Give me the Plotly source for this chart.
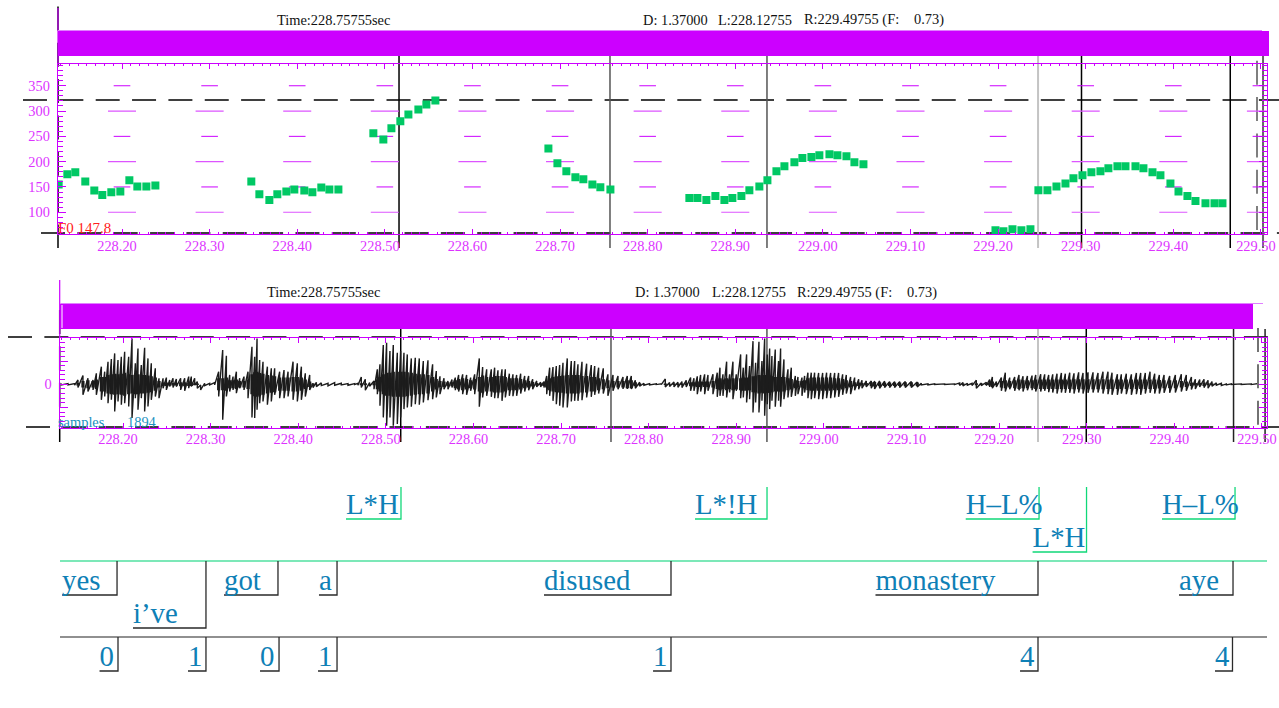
import plotly.graph_objects as go

# ---------- data ----------
f0_t = [228.1277,228.1376,228.1467,228.1581,228.1684,228.1775,228.1878,228.1981,228.2084,228.2175,228.2278,228.2381,
        228.3476,228.3568,228.3682,228.3773,228.3876,228.3967,228.4081,228.4173,228.4275,228.4367,228.4470,
        228.4869,228.4983,228.5075,228.5177,228.5269,228.5383,228.5474,228.5577,
        228.6867,228.6970,228.7072,228.7175,228.7266,228.7369,228.7460,228.7575,
        228.8476,228.8568,228.8670,228.8773,228.8876,228.8967,228.9070,228.9161,228.9275,228.9367,228.9470,228.9561,
        228.9675,228.9766,228.9869,228.9960,229.0075,229.0166,229.0269,229.0360,229.0463,
        229.1970,229.2061,229.2164,229.2266,229.2369,
        229.2460,229.2563,229.2666,229.2769,229.2860,229.2963,229.3065,229.3168,229.3259,229.3362,229.3454,229.3568,
        229.3659,229.3762,229.3853,229.3967,229.4059,229.4161,229.4253,229.4367,229.4470,229.4561]
f0_hz = [155,175,179,161,143,134,139.5,141,163,151,151,153,
         161,135.5,124,135.5,141,145,143,139.5,149,145,145,
         256,244,266,280,293,303,313,321,
         226,197,181,169,165,155,149.3,145,
         128,128,124,132,124,128,132,143.4,151,163,181,191,
         199,207,209,212.5,214.5,212.5,210.5,199,195,
         64.5,62.5,66.5,64.5,66.5,
         143.4,143.4,151,157,167,173,179,181,187,191,191,191,
         187,179,173,157,141,132,122,118,118,118]

wave_t = [228.1296,228.1372,228.1448,228.1486,228.1543,228.1600,228.1658,228.1696,228.1753,228.1791,228.1829,228.1867,
          228.1905,228.1943,228.1981,228.2019,228.2065,228.2103,228.2141,228.2171,228.2209,228.2247,228.2285,228.2323,
          228.2369,228.2411,228.2457,228.2495,228.2533,228.2571,228.2609,228.2658,228.2704,228.2750,228.2780,228.2818,
          228.2848,228.2886,228.2932,228.2989,228.3046,228.3092,228.3138,228.3180,228.3218,228.3256,228.3294,228.3332,
          228.3381,228.3427,228.3472,228.3503,228.3530,228.3560,228.3598,228.3648,228.3693,228.3731,228.3788,228.3838,
          228.3884,228.3941,228.3990,228.4036,228.4081,228.4131,228.4169,228.4207,228.4264,228.4340,228.4416,228.4492,
          228.4568,228.4644,
          228.4682,228.4720,228.4766,228.4815,228.4865,228.4903,228.4933,228.4971,228.5009,228.5047,228.5085,228.5131,
          228.5169,228.5207,228.5245,228.5291,228.5336,228.5382,228.5428,228.5481,228.5534,228.5576,228.5618,228.5664,
          228.5709,228.5755,228.5793,228.5831,228.5877,228.5922,228.5968,228.6014,228.6067,228.6105,228.6151,228.6204,
          228.6242,228.6280,228.6326,228.6364,228.6410,228.6451,228.6493,228.6539,228.6585,228.6630,228.6676,228.6722,
          228.6767,228.6805,228.6836,228.6870,228.6908,228.6946,228.6984,228.7022,228.7071,228.7117,228.7155,228.7193,
          228.7239,228.7292,228.7345,228.7384,228.7429,228.7482,228.7535,228.7593,228.7650,228.7707,228.7756,228.7802,
          228.7848,228.7897,228.7946,228.8011,228.8087,
          228.8144,228.8190,228.8239,228.8289,228.8334,228.8380,228.8429,228.8479,228.8517,228.8555,228.8593,228.8639,
          228.8677,228.8734,228.8783,228.8814,228.8848,228.8890,228.8924,228.8962,228.9000,228.9050,228.9080,228.9118,
          228.9152,228.9191,228.9221,228.9259,228.9293,228.9324,228.9354,228.9381,228.9407,228.9445,228.9483,228.9506,
          228.9544,228.9590,228.9628,228.9674,228.9704,228.9750,228.9780,228.9818,228.9856,228.9894,228.9940,228.9986,
          229.0031,229.0077,229.0123,229.0168,229.0214,229.0256,229.0305,229.0351,229.0397,229.0435,229.0484,229.0541,
          229.0579,229.0636,229.0693,229.0750,229.0807,229.0865,229.0929,229.0998,229.1066,229.1112,229.1188,229.1264,
          229.1378,229.1492,
          229.1550,229.1588,229.1638,229.1691,229.1740,229.1797,229.1854,229.1892,229.1923,229.1969,229.2026,229.2071,
          229.2121,229.2178,229.2227,229.2273,229.2323,229.2376,229.2418,229.2475,229.2520,229.2566,229.2612,229.2661,
          229.2711,229.2756,229.2806,229.2855,229.2908,229.2958,229.3015,229.3072,229.3129,229.3186,229.3243,229.3289,
          229.3350,229.3395,229.3452,229.3510,229.3567,229.3616,229.3669,229.3723,229.3776,229.3829,229.3883,229.3947,
          229.4012,229.4080,229.4137,229.4195,229.4240,229.4290,229.4339,229.4385,229.4430,229.4480,229.4537,229.4594,
          229.4651,229.4765,229.4879,229.4936]
wave_hi = [2,2,2,13,26,18,13,33,53,38,68,76,93,73,83,98,83,138,63,108,58,110,78,63,48,18,18,20,13,18,16,18,18,23,23,18,
           8,-2,3,3,5,38,103,86,28,23,38,18,23,38,113,83,138,73,68,53,48,48,38,43,38,68,63,53,33,28,3,6,4,3,5,3,2,2,
           3,22,15,5,10,45,60,118,125,100,118,95,100,95,90,78,80,78,70,72,60,40,24,18,10,14,20,28,30,28,20,30,78,52,45,45,
           50,42,45,45,32,30,28,32,25,25,15,10,6,8,25,50,52,55,58,65,78,70,70,60,68,62,58,55,50,48,30,28,25,22,25,25,12,6,3,2,1,
           1,16,5,7,6,8,12,20,18,24,28,30,28,30,35,50,30,68,30,68,30,90,50,90,55,130,65,128,70,138,90,108,85,105,70,108,
           75,45,50,25,22,20,25,35,35,35,34,34,35,34,34,34,30,28,22,20,15,12,10,10,10,10,9,8,8,8,8,8,7,3,1,1,1,1,
           4,5,3,3,12,4,6,14,22,8,20,35,20,22,28,24,25,26,28,30,30,28,30,32,34,32,35,33,36,34,36,36,34,38,38,35,
           30,30,32,30,34,34,34,38,32,28,28,25,28,30,28,22,15,14,15,12,8,4,3,1,1,1,1,1]
wave_lo = [-2,-2,-3,-10,-32,-22,-17,-32,-47,-37,-57,-47,-82,-52,-62,-57,-67,-102,-42,-77,-42,-82,-67,-47,-37,-42,-12,-17,-7,-10,-7,-17,-20,-12,-7,-2,
           -12,-17,-4,-2,-2,-37,-107,-37,-22,-17,-27,-12,-17,-42,-100,-102,-77,-57,-52,-62,-52,-32,-42,-42,-37,-47,-52,-47,-37,-17,-10,-7,-4,-5,-3,-2,-3,-1,
           -3,-10,-18,-6,-15,-30,-65,-100,-125,-100,-125,-120,-100,-75,-70,-68,-60,-62,-55,-48,-45,-40,-30,-15,-15,-10,-18,-22,-30,-32,-20,-30,-68,-40,-35,-38,
           -42,-42,-50,-40,-35,-36,-35,-28,-22,-18,-15,-8,-8,-10,-30,-35,-50,-60,-65,-70,-70,-52,-50,-50,-48,-40,-38,-32,-28,-28,-35,-20,-15,-14,-14,-14,-12,-6,-3,-2,-1,
           -1,-8,-7,-8,-9,-10,-8,-20,-20,-30,-22,-30,-20,-30,-38,-35,-35,-40,-25,-45,-20,-42,-40,-55,-45,-85,-55,-85,-50,-95,-60,-75,-50,-68,-50,-68,
           -45,-40,-38,-35,-30,-35,-25,-42,-45,-42,-45,-45,-42,-42,-40,-38,-32,-28,-30,-18,-15,-12,-8,-12,-14,-12,-10,-10,-10,-10,-10,-10,-8,-2,-2,-1,-1,-1,
           -4,-5,-3,-4,-12,-4,-4,-8,-12,-8,-20,-22,-15,-20,-18,-22,-18,-18,-22,-22,-20,-24,-25,-28,-25,-26,-26,-28,-25,-28,-26,-25,-25,-28,-30,-32,
           -32,-28,-30,-32,-30,-32,-28,-26,-28,-28,-26,-26,-25,-22,-20,-16,-14,-8,-10,-12,-6,-3,-4,-2,-1,-1,-1,-1]
wave_body = [0,0,0,4,10,12,10,14,22,22,28,30,32,30,32,35,30,28,30,30,28,28,26,24,20,10,5,5,4,4,4,6,6,5,5,3,
             2,0,0,0,0,18,18,20,12,12,14,10,10,14,30,36,38,34,32,28,26,24,20,20,20,22,22,20,14,8,2,1,0,0,0,0,0,0,
             0,3,3,1,3,15,22,30,35,35,38,38,38,38,36,35,32,30,30,28,22,16,10,8,6,6,12,16,18,16,12,16,22,26,22,22,
             25,25,25,22,18,18,18,16,12,10,7,4,3,5,10,18,22,24,25,26,28,28,28,28,25,25,22,22,18,15,12,10,10,10,12,12,6,3,1,0,0,
             0,2,1,2,2,2,3,6,6,8,8,8,8,10,14,18,14,18,14,18,16,18,20,20,18,24,24,28,26,28,26,26,24,22,22,22,
             22,18,16,12,10,10,12,18,20,20,20,20,20,20,18,18,16,12,10,6,5,4,4,6,7,6,5,5,5,5,6,6,5,1,0,0,0,0,
             1,2,1,1,3,2,2,4,8,3,10,12,10,12,14,12,12,12,14,14,14,14,14,14,14,14,14,15,15,15,15,15,15,15,14,14,
             14,14,14,14,14,14,14,14,14,13,12,12,12,10,8,5,4,4,5,3,2,1,1,0,0,0,0,0]

time_ticks = [228.2,228.3,228.4,228.5,228.6,228.7,228.8,228.9,229.0,229.1,229.2,229.3,229.4,229.5]
time_labels = ["228.20","228.30","228.40","228.50","228.60","228.70","228.80","228.90","229.00","229.10","229.20","229.30","229.40","229.50"]
hz_ticks = [100,150,200,250,300,350]

tones = ["L*H","L*!H","H\u2013L%","L*H","H\u2013L%"]
tone_start = [228.4545,228.8529,229.1619,229.2382,229.3859]
tone_end = [228.5173,228.9351,229.2456,229.2998,229.4693]
tone_row = [0,0,0,1,0]
words = ["yes","i\u2019ve","got","a","disused","monastery","aye"]
word_start = [228.1304,228.2114,228.3153,228.4237,228.6805,229.0589,229.4053]
word_end = [228.1932,228.2947,228.3769,228.4443,228.8255,229.2444,229.4670]
word_row = [0,1,0,0,0,0,0]
breaks = ["0","1","0","1","1","4","4"]
break_start = [228.1732,228.2742,228.3564,228.4226,228.8050,229.2239,229.4464]
break_end = [228.1943,228.2947,228.3781,228.4443,228.8255,229.2444,229.4664]

cursors_top = [(228.5162,"#000000",1.5),(228.7570,"#555555",1.5),(228.9362,"#555555",1.5),(229.2456,"#c4c4c4",2),(229.2952,"#000000",1.5),(229.4650,"#000000",1.5),(229.5024,"#666666",2)]
cursors_wav = [(228.5170,"#000000",1.5),(228.7570,"#555555",1.5),(228.9350,"#555555",1.5),(229.2444,"#c4c4c4",2),(229.2995,"#000000",1.5),(229.4676,"#222222",1.5),(229.5036,"#222222",1.5)]

# ---------- styling ----------
W, H = 1279, 708
MAG = "#cc00ff"
MAGT = "#dd33ff"
FONT = "Liberation Serif"
BLUE = "#0e80b6"
GREEN = "#10d878"
FS = 14.4
TS = 28.8
def fx(p): return p / W
def fy(p): return 1 - p / H

fig = go.Figure()

# grid dashes of the top panel
gx, gy = [], []
gx2, gy2 = [], []
for t in time_ticks:
    for hz in hz_ticks:
        half = 0.016 if hz % 100 == 0 else 0.0095
        (gx if hz % 100 else gx2).extend([t - half, t + half, None])
        (gy if hz % 100 else gy2).extend([hz, hz, None])
fig.add_trace(go.Scatter(x=gx, y=gy, xaxis="x", yaxis="y", mode="lines", line=dict(color=MAG, width=1), hoverinfo="skip"))
fig.add_trace(go.Scatter(x=gx2, y=gy2, xaxis="x", yaxis="y", mode="lines", line=dict(color="#dd55ff", width=1.2), hoverinfo="skip"))
fig.add_trace(go.Scatter(x=f0_t, y=f0_hz, xaxis="x", yaxis="y", mode="markers",
                         marker=dict(symbol="square", size=8, color="#00c864", line=dict(width=0)), hoverinfo="skip"))

# waveform
zx, zy, bx, by = [], [], [], []
for t, a, b, c in zip(wave_t, wave_hi, wave_lo, wave_body):
    zx += [t, t]
    zy += [a, b]
    if c:
        bx += [t, t, None]
        by += [c, -c, None]
fig.add_trace(go.Scatter(x=bx, y=by, xaxis="x2", yaxis="y2", mode="lines", line=dict(color="#1c1c1c", width=3.2), hoverinfo="skip"))
fig.add_trace(go.Scatter(x=zx, y=zy, xaxis="x2", yaxis="y2", mode="lines", line=dict(color="#1c1c1c", width=1.4), hoverinfo="skip"))

# label tiers
def tier(starts, ends, baselines, tops, labels, color, text_dy):
    x, y = [], []
    for s, e, b, u in zip(starts, ends, baselines, tops):
        x += [s, e, e, None]
        y += [b, b, u, None]
    fig.add_trace(go.Scatter(x=x, y=y, xaxis="x3", yaxis="y3", mode="lines", line=dict(color=color, width=1.3), hoverinfo="skip"))
    fig.add_trace(go.Scatter(x=starts, y=[b + text_dy for b in baselines], xaxis="x3", yaxis="y3", mode="text", text=labels,
                             textposition="top right", textfont=dict(family=FONT, size=TS, color=BLUE), hoverinfo="skip"))

TONE_BASE = [519, 552]
WORD_BASE = [595, 628]
BREAK_BASE = 671
tier(tone_start, tone_end, [TONE_BASE[r] for r in tone_row], [487] * len(tones), tones, GREEN, 2)
tier(word_start, word_end, [WORD_BASE[r] for r in word_row], [561] * len(words), words, "#2a2a2a", 2)
tier(break_start, break_end, [BREAK_BASE] * len(breaks), [637] * len(breaks), breaks, "#2a2a2a", 2)

shapes = []
def paper_line(x0, y0, x1, y1, color, width=1, dash=None, layer="below"):
    shapes.append(dict(type="line", xref="paper", yref="paper", x0=fx(x0), x1=fx(x1), y0=fy(y0), y1=fy(y1),
                       line=dict(color=color, width=width, dash=dash), layer=layer))
def paper_rect(x0, y0, x1, y1, color):
    shapes.append(dict(type="rect", xref="paper", yref="paper", x0=fx(x0), x1=fx(x1), y0=fy(y0), y1=fy(y1),
                       fillcolor=color, line=dict(width=0), layer="below"))

DASH = "24px,12.35px"
# top panel furniture
paper_line(23, 100, 1279, 100, "#000000", 1.5, DASH)
paper_line(41, 233, 1279, 233, "#000000", 1.5, DASH)
paper_line(58, 6.4, 58, 232, "#000000", 1.5, DASH)
paper_line(58, 234, 58, 248, "#000000", 1.5)
paper_line(1257, 60.7, 1257, 232, "#555555", 1.5, DASH)
for t, col, w in cursors_top:
    shapes.append(dict(type="line", xref="x", yref="paper", x0=t, x1=t, y0=fy(56), y1=fy(248), line=dict(color=col, width=w), layer="below"))
paper_line(58, 8, 58, 64, MAG, 1.2)
paper_line(58, 30.5, 1262, 30.5, "#e080ff", 1)
paper_rect(58, 31, 1269, 56, MAG)
# waveform panel furniture
paper_line(8, 337, 1279, 337, "#000000", 1.5, DASH)
paper_line(26, 427, 1279, 427, "#000000", 1.5, DASH)
paper_line(59.7, 310, 59.7, 426, "#000000", 1.5, DASH)
paper_line(59.7, 428, 59.7, 442, "#000000", 1.5)
paper_line(1258, 328, 1258, 426, "#444444", 1.5, DASH)
for t, col, w in cursors_wav:
    shapes.append(dict(type="line", xref="x2", yref="paper", x0=t, x1=t, y0=fy(329), y1=fy(442), line=dict(color=col, width=w), layer="below"))
paper_line(59.7, 280, 59.7, 337, MAG, 1.2)
paper_line(60, 303.5, 1263, 303.5, "#e080ff", 1)
paper_rect(60, 304, 1253, 329, MAG)
paper_line(62, 305, 62, 328, "#ffffff", 1)
# tier rules
paper_line(60, 561, 1267, 561, "#50e0a0", 1.3)
paper_line(60, 637, 1267, 637, "#222222", 1.2)

def note(x, y, text, color="#111111", size=FS, xanchor="left"):
    return dict(xref="paper", yref="paper", x=fx(x), y=fy(y), text=text, showarrow=False, xanchor=xanchor, yanchor="middle",
                font=dict(family=FONT, size=size, color=color), borderpad=0, borderwidth=0)
anns = [note(277, 19.5, "Time:228.75755sec"), note(642.5, 19.5, "D: 1.37000"), note(718.3, 19.5, "L:228.12755"),
        note(804, 19.5, "R:229.49755 (F:"), note(914.3, 19.5, "0.73)"),
        note(267, 292.3, "Time:228.75755sec"), note(635, 292.3, "D: 1.37000"), note(711.7, 292.3, "L:228.12755"),
        note(796.7, 292.3, "R:229.49755 (F:"), note(907.3, 292.3, "0.73)"),
        note(58, 228, "F0 147.8", "#ff2020", 15),
        note(58, 422, "samples", "#2090c0", 14.4), note(126.7, 422, "1894", "#2090c0", 14.4)]

def xa(domain, rng, anchor, standoff):
    return dict(domain=[fx(domain[0]), fx(domain[1])], range=rng, anchor=anchor, showgrid=False, zeroline=False,
                showline=True, linecolor=MAG, linewidth=1.4, mirror="allticks", ticks="inside", ticklen=5, tickwidth=1, tickcolor=MAG,
                tickmode="array", tickvals=time_ticks, ticktext=time_labels, ticklabelshift=-5, ticklabelstandoff=standoff,
                tickfont=dict(family=FONT, size=FS, color=MAGT),
                minor=dict(dtick=0.01, ticks="inside", ticklen=2, tickwidth=1, tickcolor=MAG, showgrid=False))
def ya(domain, rng, anchor, vals, text, mdt, tl=8, ml=5):
    return dict(domain=[fy(domain[1]), fy(domain[0])], range=rng, anchor=anchor, showgrid=False, zeroline=False,
                showline=True, linecolor=MAG, linewidth=1.4, mirror="allticks", ticks="inside", ticklen=tl, tickwidth=1, tickcolor=MAG,
                tickmode="array", tickvals=vals, ticktext=text, ticklabelstandoff=4,
                tickfont=dict(family=FONT, size=FS, color=MAGT),
                minor=dict(dtick=mdt, ticks="inside", ticklen=ml, tickwidth=1, tickcolor=MAG, showgrid=False))

fig.update_layout(
    width=W, height=H, margin=dict(l=0, r=0, t=0, b=0, pad=0, autoexpand=False), autosize=False, showlegend=False,
    paper_bgcolor="white", plot_bgcolor="rgba(0,0,0,0)", font=dict(family=FONT),
    shapes=shapes, annotations=anns,
    xaxis=xa((58, 1266.7), [228.12695, 229.50659], "y", -1),
    yaxis=ya((64, 234), [57, 393], "x", hz_ticks, [str(v) for v in hz_ticks], 10),
    xaxis2=xa((59.7, 1267.3), [228.12775, 229.50613], "y2", -2),
    yaxis2=ya((337.5, 428), [-132, 141], "x2", [-70, 0, 70, 140], ["", "0", "", ""], 14),
    xaxis3=dict(domain=[fx(59.7), fx(1267.3)], range=[228.12775, 229.50613], anchor="y3", visible=False),
    yaxis3=dict(domain=[fy(680), fy(480)], range=[680, 480], anchor="x3", visible=False),
)
fig.write_html("out.html", post_script="document.documentElement.style.margin='0';document.body.style.margin='0';document.body.style.overflow='hidden';",
               config={"displayModeBar": False})
